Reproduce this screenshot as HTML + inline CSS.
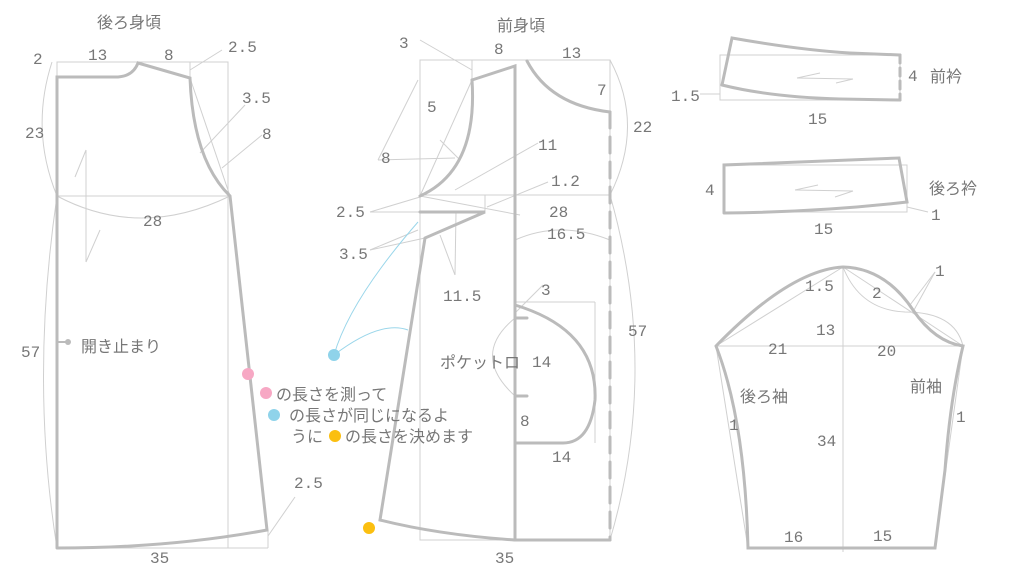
<!DOCTYPE html>
<html><head><meta charset="utf-8"><style>
html,body{margin:0;padding:0;background:#fff;}
svg{display:block;}
text{font-family:"Liberation Mono","Noto Sans CJK JP",monospace;fill:#777;font-size:16px;}
.j{font-family:"Liberation Sans","Noto Sans CJK JP",sans-serif;}
</style></head><body>
<svg width="1024" height="573" viewBox="0 0 1024 573" xmlns="http://www.w3.org/2000/svg">
<g fill="none" stroke="#d0d0d0" stroke-width="1">
<rect x="57" y="62" width="171" height="486"/>
<line x1="190" y1="62" x2="190" y2="78"/>
<line x1="190" y1="78" x2="230" y2="196"/>
<line x1="57" y1="196" x2="230" y2="196"/>
<line x1="228" y1="548" x2="268" y2="548"/>
<line x1="268" y1="530" x2="268" y2="548"/>
<line x1="86" y1="150" x2="86" y2="262"/><line x1="86" y1="150" x2="75" y2="177"/><line x1="86" y1="262" x2="100" y2="230"/>
<path d="M52,62 Q30,130 57,196"/><path d="M57,196 Q30,380 57,548"/>
<path d="M57,196 Q140,240 230,196"/>
<line x1="190" y1="70" x2="222" y2="50"/><line x1="200" y1="153" x2="245" y2="105"/><line x1="222" y1="168" x2="262" y2="135"/>
<line x1="268" y1="536" x2="295" y2="497"/>
<rect x="420" y="60" width="190" height="480"/>
<line x1="472" y1="60" x2="472" y2="80"/>
<line x1="472" y1="80" x2="420" y2="196"/>
<line x1="420" y1="195" x2="610" y2="195"/>
<line x1="485" y1="195" x2="485" y2="212"/>
<path d="M610,60 Q645,125 610,195"/><path d="M610,195 Q660,370 610,540"/>
<path d="M515,240 Q560,220 610,240"/>
<line x1="420" y1="196" x2="520" y2="215"/>
<line x1="418" y1="80" x2="378" y2="160"/>
<line x1="378" y1="160" x2="455" y2="158"/>
<line x1="420" y1="197" x2="370" y2="212"/><line x1="420" y1="212" x2="370" y2="212"/>
<line x1="418" y1="230" x2="370" y2="250"/><line x1="425" y1="238" x2="370" y2="250"/>
<line x1="420" y1="40" x2="472" y2="70"/>
<line x1="440" y1="140" x2="460" y2="160"/>
<line x1="455" y1="190" x2="538" y2="143"/>
<line x1="487" y1="207" x2="548" y2="182"/>
<line x1="440" y1="235" x2="455" y2="275"/><line x1="455" y1="275" x2="456" y2="212"/>
<line x1="515" y1="302" x2="595" y2="302"/><line x1="595" y1="302" x2="595" y2="443"/>
<path d="M515,318 Q470,355 515,396"/>
<line x1="515" y1="313" x2="543" y2="285"/>
<rect x="720" y="55" width="180" height="45"/>
<line x1="700" y1="94" x2="720" y2="94"/>
<rect x="723" y="165" width="184" height="47"/>
<line x1="907" y1="207" x2="928" y2="212"/>
<line x1="797" y1="78" x2="820" y2="73"/><line x1="797" y1="78" x2="853" y2="79"/><line x1="853" y1="79" x2="836" y2="83"/>
<line x1="795" y1="190" x2="818" y2="185"/><line x1="795" y1="190" x2="853" y2="191"/><line x1="853" y1="191" x2="835" y2="197"/>
<line x1="843" y1="267" x2="843" y2="552"/>
<line x1="716" y1="346" x2="963" y2="346"/>
<line x1="716" y1="346" x2="843" y2="267"/><line x1="843" y1="267" x2="963" y2="346"/>
<line x1="716" y1="346" x2="748" y2="548"/><line x1="963" y1="346" x2="935" y2="548"/>
<path d="M843,267 Q860,310 905,312 Q955,312 963,346"/>
<line x1="914" y1="310" x2="935" y2="272"/><line x1="910" y1="305" x2="935" y2="272"/>
</g>
<g fill="none" stroke="#bbb" stroke-width="3" stroke-linecap="round">
<path d="M57,548 L57,77 L118,77 Q133,76 138,63 L190,78 Q193,160 230,196 L267,530 Q170,548 57,548"/>
<path d="M472,80 L515,66 L515,540 L610,540"/>
<path d="M472,80 Q478,170 420,196"/>
<path d="M527,61 Q550,105 610,112"/>
<line x1="610" y1="112" x2="610" y2="540" stroke-dasharray="16,9"/>
<path d="M420,212 L485,212 L425,238 L380,520 Q440,535 515,540"/>
<path d="M515,305 Q598,330 595,400 Q590,443 563,443 L515,443"/>
<line x1="515" y1="318" x2="527" y2="318"/><line x1="515" y1="396" x2="527" y2="396"/>
<path d="M722,85 L732,38 Q800,50 850,53 L900,55"/>
<line x1="900" y1="55" x2="900" y2="100" stroke-dasharray="8,5"/>
<path d="M900,100 L840,99 Q770,97 722,85"/>
<path d="M724,213 L724,165 L899,158 L907,202 Q820,212 724,213"/>
<path d="M716,346 Q790,270 843,267 Q885,268 913,310 Q935,342 963,346 Q950,400 945,470 L935,548 L748,548 Q745,420 716,346"/>
</g>
<g fill="none" stroke="#9ad6ea" stroke-width="1">
<path d="M334,355 Q350,300 418,222"/><path d="M334,355 Q380,320 408,330"/>
</g>
<circle cx="68" cy="342" r="3" fill="#bbb"/><line x1="57" y1="342" x2="68" y2="342" stroke="#bbb" stroke-width="2"/>
<circle cx="248" cy="374" r="6" fill="#f7a8c4"/>
<circle cx="334" cy="355" r="6" fill="#8fd3ea"/>
<circle cx="369" cy="528" r="6" fill="#fbbf10"/>
<circle cx="266" cy="393" r="6" fill="#f7a8c4"/>
<circle cx="274" cy="415" r="6" fill="#8fd3ea"/>
<circle cx="335" cy="436" r="6" fill="#fbbf10"/>
<g>
<text class="j" x="97" y="28" font-size="17">後ろ身頃</text>
<text x="33" y="64">2</text><text x="88" y="60">13</text><text x="164" y="60">8</text>
<text x="228" y="52">2.5</text><text x="242" y="103">3.5</text><text x="262" y="139">8</text>
<text x="25" y="138">23</text><text x="143" y="226">28</text><text x="21" y="357">57</text>
<text class="j" x="81" y="352" font-size="17">開き止まり</text>
<text x="294" y="488">2.5</text><text x="150" y="563">35</text>
<text class="j" x="276" y="400" font-size="15">の長さを測って</text>
<text class="j" x="289" y="421" font-size="15">の長さが同じになるよ</text>
<text class="j" x="291" y="442" font-size="15">うに</text>
<text class="j" x="345" y="442" font-size="15">の長さを決めます</text>
<text class="j" x="497" y="31" font-size="17">前身頃</text>
<text x="399" y="48">3</text><text x="494" y="54">8</text><text x="562" y="58">13</text>
<text x="597" y="95">7</text><text x="633" y="132">22</text>
<text x="427" y="112">5</text><text x="381" y="163">8</text>
<text x="538" y="150">11</text><text x="551" y="186">1.2</text>
<text x="336" y="217">2.5</text><text x="549" y="217">28</text><text x="547" y="239">16.5</text>
<text x="339" y="259">3.5</text><text x="443" y="301">11.5</text><text x="541" y="295">3</text>
<text x="628" y="336">57</text>
<text class="j" x="440" y="368" font-size="18">ポケットロ</text><text x="532" y="367">14</text>
<text x="520" y="426">8</text><text x="552" y="462">14</text><text x="495" y="563">35</text>
<text x="908" y="81">4</text><text class="j" x="930" y="82" font-size="16">前衿</text>
<text x="671" y="101">1.5</text><text x="808" y="124">15</text>
<text x="705" y="195">4</text><text class="j" x="929" y="194" font-size="16">後ろ衿</text>
<text x="931" y="220">1</text><text x="814" y="234">15</text>
<text x="935" y="276">1</text><text x="805" y="291">1.5</text><text x="872" y="298">2</text>
<text x="816" y="335">13</text><text x="768" y="354">21</text><text x="877" y="356">20</text>
<text class="j" x="740" y="402" font-size="16">後ろ袖</text><text class="j" x="910" y="392" font-size="16">前袖</text>
<text x="729" y="430">1</text><text x="956" y="422">1</text><text x="817" y="446">34</text>
<text x="784" y="542">16</text><text x="873" y="541">15</text>
</g>
</svg>
</body></html>
